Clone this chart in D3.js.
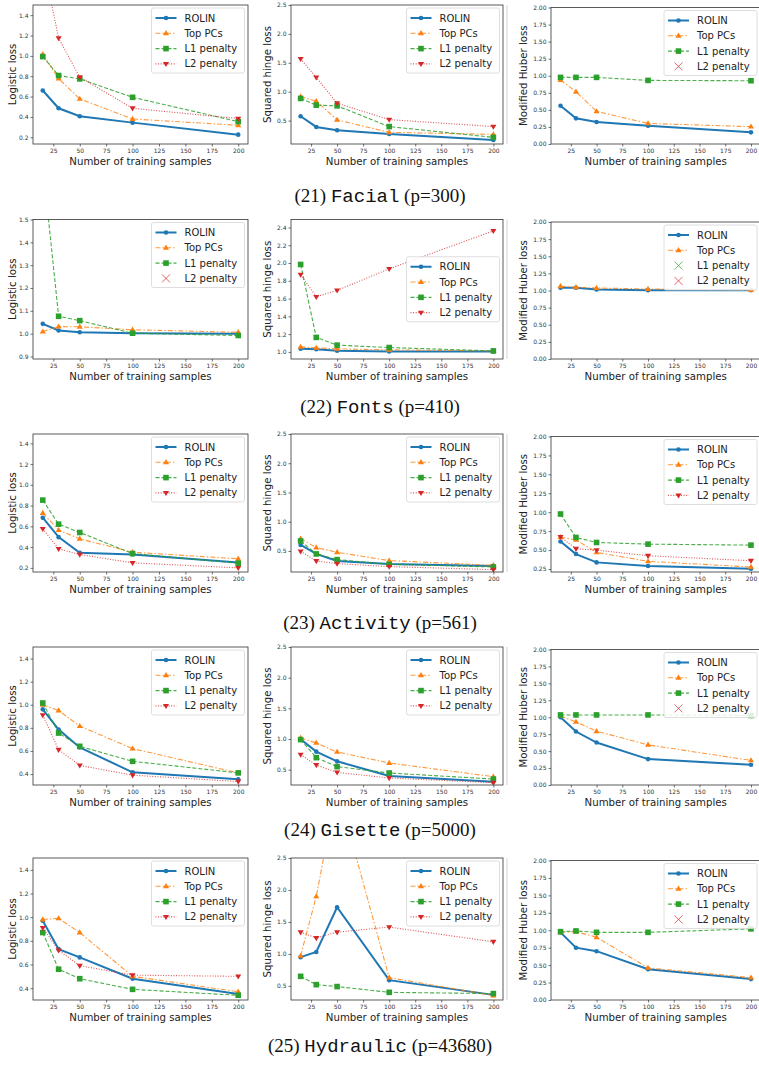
<!DOCTYPE html>
<html>
<head>
<meta charset="utf-8">
<script src="https://cdn.jsdelivr.net/npm/d3@7"></script>
<style>
  body { margin: 0; background: #fff; }
</style>
</head>
<body>
<div id="chart"></div>
<script>
const samples = [15, 30, 50, 100, 200];
const methods = ["ROLIN", "Top PCs", "L1 penalty", "L2 penalty"];
const lossLabels = ["Logistic loss", "Squared hinge loss", "Modified Huber loss"];
const datasetNames = ["Facial", "Fonts", "Activity", "Gisette", "Hydraulic"];
const figureNumbers = [21, 22, 23, 24, 25];
const featureCounts = [300, 410, 561, 5000, 43680];
const xTicks = [25, 50, 75, 100, 125, 150, 175, 200];

// rows: ROLIN, Top PCs, L1 penalty, L2 penalty (null = series not plotted)
const facialLogistic = [
  [0.66, 0.485, 0.407, 0.344, 0.226],
  [1.016, 0.777, 0.577, 0.38, 0.318],
  [0.993, 0.807, 0.774, 0.593, 0.354],
  [1.93, 1.174, 0.79, 0.485, 0.384]
];
const facialHinge = [
  [0.575, 0.39, 0.332, 0.268, 0.164],
  [0.917, 0.836, 0.512, 0.297, 0.262],
  [0.883, 0.767, 0.755, 0.396, 0.21],
  [1.567, 1.248, 0.8, 0.517, 0.396]
];
const facialHuber = [
  [0.561, 0.376, 0.322, 0.268, 0.171],
  [0.937, 0.766, 0.478, 0.302, 0.254],
  [0.976, 0.976, 0.976, 0.932, 0.927],
  null
];
const fontsLogistic = [
  [1.043, 1.014, 1.006, 1.002, 1.0],
  [1.009, 1.031, 1.03, 1.017, 1.006],
  [1.74, 1.076, 1.057, 1.002, 0.992],
  null
];
const fontsHinge = [
  [1.036, 1.03, 1.013, 1.004, 1.004],
  [1.057, 1.045, 1.034, 1.023, 1.011],
  [1.984, 1.163, 1.076, 1.049, 1.011],
  [1.87, 1.62, 1.692, 1.935, 2.362]
];
const fontsHuber = [
  [1.04, 1.04, 1.015, 1.005, 1.004],
  [1.061, 1.047, 1.037, 1.022, 1.007],
  null,
  null
];
const activityLogistic = [
  [0.683, 0.496, 0.345, 0.329, 0.251],
  [0.728, 0.564, 0.48, 0.351, 0.287],
  [0.853, 0.621, 0.541, 0.338, 0.245],
  [0.576, 0.383, 0.329, 0.248, 0.2]
];
const activityHinge = [
  [0.603, 0.449, 0.329, 0.278, 0.244],
  [0.711, 0.557, 0.477, 0.335, 0.255],
  [0.671, 0.449, 0.352, 0.272, 0.226],
  [0.494, 0.329, 0.283, 0.232, 0.181]
];
const activityHuber = [
  [0.613, 0.447, 0.337, 0.289, 0.254],
  [0.67, 0.635, 0.469, 0.351, 0.276],
  [0.976, 0.666, 0.6, 0.578, 0.565],
  [0.674, 0.517, 0.499, 0.425, 0.359]
];
const gisetteLogistic = [
  [0.96, 0.785, 0.63, 0.415, 0.355],
  [1.0, 0.95, 0.815, 0.62, 0.41],
  [1.015, 0.755, 0.64, 0.51, 0.41],
  [0.91, 0.61, 0.475, 0.39, 0.335]
];
const gisetteHinge = [
  [0.996, 0.794, 0.636, 0.396, 0.304],
  [1.018, 0.936, 0.789, 0.609, 0.386],
  [0.99, 0.696, 0.549, 0.446, 0.347],
  [0.745, 0.576, 0.456, 0.364, 0.287]
];
const gisetteHuber = [
  [1.0, 0.789, 0.627, 0.382, 0.299],
  [1.02, 0.931, 0.794, 0.593, 0.363],
  [1.034, 1.034, 1.034, 1.034, 1.026],
  null
];
const hydraulicLogistic = [
  [0.97, 0.73, 0.66, 0.48, 0.35],
  [0.98, 0.99, 0.87, 0.5, 0.37],
  [0.87, 0.56, 0.48, 0.39, 0.34],
  [0.91, 0.72, 0.59, 0.51, 0.5]
];
const hydraulicHinge = [
  [0.95, 1.03, 1.73, 0.59, 0.36],
  [0.97, 1.9, 3.6, 0.63, 0.35],
  [0.65, 0.52, 0.49, 0.4, 0.38],
  [1.34, 1.25, 1.34, 1.42, 1.19]
];
const hydraulicHuber = [
  [0.97, 0.75, 0.7, 0.44, 0.3],
  [0.97, 0.98, 0.9, 0.46, 0.32],
  [0.98, 0.99, 0.97, 0.97, 1.02],
  null
];

const panelData = [
  [facialLogistic, facialHinge, facialHuber],
  [fontsLogistic, fontsHinge, fontsHuber],
  [activityLogistic, activityHinge, activityHuber],
  [gisetteLogistic, gisetteHinge, gisetteHuber],
  [hydraulicLogistic, hydraulicHinge, hydraulicHuber]
];

// axis limits and tick values
const yDomains = [
  [[0.134, 1.5], [0.095, 2.5], [0, 2]],
  [[0.889, 1.5], [0.92, 2.49], [0, 2]],
  [[0.16, 1.49], [0.14, 2.5], [0.21, 2]],
  [[0.305, 1.5], [0.25, 2.5], [0, 2]],
  [[0.3, 1.5], [0.28, 2.5], [0, 2]]
];
const logisticTicks = [0.2, 0.4, 0.6, 0.8, 1.0, 1.2, 1.4];
const hingeTicks = [0.5, 1.0, 1.5, 2.0, 2.5];
const huberTicks = [0, 0.25, 0.5, 0.75, 1.0, 1.25, 1.5, 1.75, 2.0];
const yTicks = [
  [logisticTicks, hingeTicks, huberTicks],
  [[0.9, 1.0, 1.1, 1.2, 1.3, 1.4, 1.5], [1.0, 1.2, 1.4, 1.6, 1.8, 2.0, 2.2, 2.4], huberTicks],
  [logisticTicks, hingeTicks, huberTicks.slice(1)],
  [logisticTicks.slice(1), hingeTicks, huberTicks],
  [logisticTicks.slice(1), hingeTicks, huberTicks]
];
const legendCenterRight = [[1, 1]]; // [row, col]

const W = 759, H = 1067;
const colX = [[33, 248], [291, 503], [551, 760.5]];
const rowY = [[5, 144], [219.5, 359], [434, 572], [647, 785], [858, 1000]];
const colTopShift = [0, 0, 2.5];
const captionY = [202, 413, 629, 836, 1052];
const yLabelX = [12, 267, 523];

const colors = ["#1f77b4", "#ff7f0e", "#2ca02c", "#d62728"];
const dashes = [null, "5,2,1.5,2", "4,2", "1,1.6"];
const widths = [2, 1.1, 1.1, 1.1];
const lineAlpha = [1, 0.8, 0.85, 0.8];

const svg = d3.select("#chart").append("svg")
  .attr("width", W).attr("height", H)
  .style("font-family", "'DejaVu Sans', sans-serif");

function marker(g, k, x, y) {
  if (k === 0) {
    g.append("circle").attr("cx", x).attr("cy", y).attr("r", 2.3).attr("fill", colors[k]);
  } else if (k === 2) {
    g.append("rect").attr("x", x - 2.8).attr("y", y - 2.8).attr("width", 5.6).attr("height", 5.6)
      .attr("fill", colors[k]);
  } else {
    const s = 3.2;
    const dir = k === 1 ? -1 : 1; // up for Top PCs, down for L2
    g.append("path")
      .attr("d", `M${x},${y + dir * s}L${x - s * 0.95},${y - dir * s * 0.6}L${x + s * 0.95},${y - dir * s * 0.6}Z`)
      .attr("fill", colors[k]);
  }
}

let clipId = 0;
panelData.forEach((row, r) => {
  row.forEach((series, c) => {
    const [x0, x1] = colX[c];
    const top = rowY[r][0] + colTopShift[c];
    const bottom = rowY[r][1];

    const x = d3.scaleLinear().domain([5.75, 209.25]).range([x0, x1]);
    const y = d3.scaleLinear().domain(yDomains[r][c]).range([bottom, top]);
    const fmt = c === 2 ? d3.format(".2f") : d3.format(".1f");

    const g = svg.append("g");

    // axes
    const xAxis = g.append("g").attr("transform", `translate(0,${bottom})`)
      .call(d3.axisBottom(x).tickValues(xTicks).tickSize(2.5).tickPadding(2).tickFormat(d3.format("d")));
    const yAxis = g.append("g").attr("transform", `translate(${x0},0)`)
      .call(d3.axisLeft(y).tickValues(yTicks[r][c]).tickSize(2.5).tickPadding(2).tickFormat(fmt));
    [xAxis, yAxis].forEach((a) => {
      a.select(".domain").remove();
      a.selectAll(".tick line").attr("stroke", "#333").attr("stroke-width", 0.7);
      a.selectAll(".tick text").attr("fill", "#333").style("font-size", "6px")
        .style("font-family", "'DejaVu Sans', sans-serif");
    });

    // clipped data lines
    const id = "clip" + clipId++;
    g.append("clipPath").attr("id", id).append("rect")
      .attr("x", x0).attr("y", top).attr("width", x1 - x0).attr("height", bottom - top);
    const plot = g.append("g").attr("clip-path", `url(#${id})`);
    const line = d3.line().x((d, i) => x(samples[i])).y((d) => y(d));

    series.forEach((vals, k) => {
      if (!vals) return;
      plot.append("path").datum(vals)
        .attr("d", line)
        .attr("fill", "none")
        .attr("stroke", colors[k])
        .attr("stroke-width", widths[k])
        .attr("stroke-opacity", lineAlpha[k])
        .attr("stroke-dasharray", dashes[k]);
      vals.forEach((v, i) => marker(plot, k, x(samples[i]), y(v)));
    });

    // frame
    g.append("rect")
      .attr("x", x0).attr("y", top).attr("width", x1 - x0).attr("height", bottom - top)
      .attr("fill", "none").attr("stroke", "#333").attr("stroke-width", 0.8);

    // axis labels
    g.append("text")
      .attr("x", (x0 + x1) / 2).attr("y", bottom + 21)
      .attr("text-anchor", "middle").attr("fill", "#222")
      .style("font-size", "10.2px")
      .text("Number of training samples");
    g.append("text")
      .attr("transform", `translate(${yLabelX[c]},${(top + bottom) / 2}) rotate(-90)`)
      .attr("text-anchor", "middle").attr("dominant-baseline", "central").attr("fill", "#222")
      .style("font-size", "10.2px")
      .text(lossLabels[c]);

    // legend
    const lw = 93, lh = 65;
    const centered = legendCenterRight.some(([rr, cc]) => rr === r && cc === c);
    const lx = x1 - lw - 3.5;
    const ly = centered ? (top + bottom) / 2 - lh / 2 : top + 3;
    const leg = g.append("g").attr("transform", `translate(${lx},${ly})`);
    leg.append("rect").attr("width", lw).attr("height", lh).attr("rx", 2)
      .attr("fill", "#fff").attr("fill-opacity", 0.85)
      .attr("stroke", "#d6d6d6").attr("stroke-width", 0.8);
    methods.forEach((m, k) => {
      const cy = 10 + k * 15.3;
      if (series[k]) {
        leg.append("line").attr("x1", 4).attr("x2", 25).attr("y1", cy).attr("y2", cy)
          .attr("stroke", colors[k]).attr("stroke-width", widths[k])
          .attr("stroke-opacity", lineAlpha[k]).attr("stroke-dasharray", dashes[k]);
        marker(leg, k, 14.5, cy);
      } else {
        leg.append("path").attr("d", `M10.5,${cy - 4}L18.5,${cy + 4}M10.5,${cy + 4}L18.5,${cy - 4}`)
          .attr("fill", "none").attr("stroke", colors[k]).attr("stroke-opacity", 0.7)
          .attr("stroke-width", 1);
      }
      leg.append("text").attr("x", 33).attr("y", cy).attr("dominant-baseline", "central")
        .attr("fill", "#222").style("font-size", "10px").text(m);
    });
  });

  // faint border between second and third panel
  svg.append("line").attr("x1", 507).attr("x2", 507)
    .attr("y1", rowY[r][0]).attr("y2", rowY[r][1])
    .attr("stroke", "#c8c8c8").attr("stroke-width", 0.8);

  // caption
  const cap = svg.append("text")
    .attr("x", 380).attr("y", captionY[r])
    .attr("text-anchor", "middle").attr("fill", "#111")
    .style("font-family", "'Liberation Serif', 'DejaVu Serif', serif")
    .style("font-size", "19px");
  cap.append("tspan").text(`(${figureNumbers[r]}) `);
  cap.append("tspan").style("font-family", "'Liberation Mono', 'DejaVu Sans Mono', monospace")
    .text(datasetNames[r]);
  cap.append("tspan").text(` (p=${featureCounts[r]})`);
});
</script>
</body>
</html>
